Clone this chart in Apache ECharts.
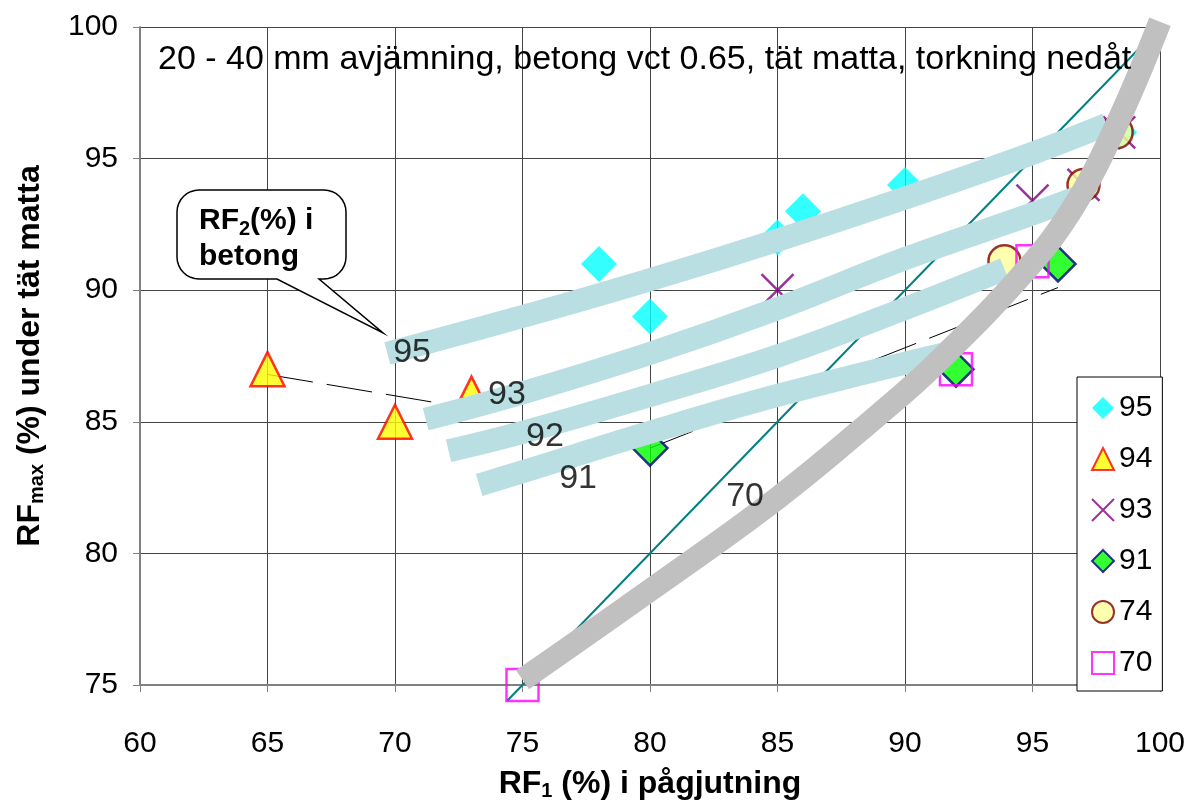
<!DOCTYPE html>
<html><head><meta charset="utf-8">
<script src="https://cdn.jsdelivr.net/npm/echarts@6/dist/echarts.min.js"></script>
<style>html,body{margin:0;padding:0;background:#fff}#c{width:1190px;height:806px}</style>
</head><body><div id="c"></div>
<script>
// ---------- data ----------
const legendNames = ['95','94','93','91','74','70'];
const s95 = [[78,91],[80,89],[85,92],[86,93],[90,94],[98.4,96]];
const s94 = [[65,87],[70,85],[73,86.3]];
const s93 = [[85,90],[95,93.4],[97,94],[98.4,96]];
const s91 = [[80,84],[92,87],[96,91]];
const s74 = [[93.9,91.1],[97,94],[98.3,96]];
const s70 = [[75,75],[92,87],[95,91.1]];
const band95 = [[69.7,87.6],[75,89.0],[80,90.4],[85,91.9],[90,93.5],[95,95.2],[97.9,96.3]];
const band93 = [[71.2,85.1],[75,86.1],[80,87.6],[85,89.3],[90,91.2],[95,92.9],[96.7,93.5]];
const band92 = [[72.1,83.9],[75,84.6],[80,86.0],[85,87.5],[90,89.3],[93.9,90.8]];
const band91 = [[73.3,82.6],[75,83.1],[80,84.6],[85,86.0],[91.6,87.6]];
const band70 = [[75,75.2],[80,78.6],[85,82.1],[89,85.3],[91.2,87.2],[94.5,90.5],[96.5,93.0],[98.3,96.3],[100,100.2]];
const diagonal = [[74.4,74.4],[100,100]];
const trend94 = [[65,86.8],[73,85.5]];
const trend91 = [[80,84],[96,90.1]];
const bandLabels = [[70.67,87.63,'95'],[74.39,86.05,'93'],[75.88,84.43,'92'],[77.18,82.84,'91'],[83.73,82.16,'70']];
const subtitle = '20 - 40 mm avjämning, betong vct 0.65, tät matta, torkning nedåt';

// ---------- chart ----------
const FONT = '"Liberation Sans", Arial, sans-serif';
const s94Sizes = [34,34,22];

// callout outline (rounded box with pointer) in pixels
function calloutPoints(x0, y0, x1, y1, r, tailA, tailB, tip){
  const pts = [];
  const arc = (cx, cy, a0, a1) => { for (let k = 0; k <= 8; k++){ const a = a0 + (a1 - a0) * k / 8; pts.push([cx + r*Math.cos(a), cy + r*Math.sin(a)]); } };
  arc(x0 + r, y0 + r, Math.PI, 1.5*Math.PI);
  arc(x1 - r, y0 + r, 1.5*Math.PI, 2*Math.PI);
  arc(x1 - r, y1 - r, 0, 0.5*Math.PI);
  pts.push([tailB, y1]); pts.push(tip); pts.push([tailA, y1]);
  arc(x0 + r, y1 - r, 0.5*Math.PI, Math.PI);
  return pts;
}

const chart = echarts.init(document.getElementById('c'), null, {renderer:'canvas'});
function band(data, color, z){
  return {type:'line', data, showSymbol:false, symbol:'none', smooth:0.4, silent:true, z,
    lineStyle:{width:23, color, cap:'butt'}};
}
function thinLine(data, style, clip){
  return {type:'line', data, showSymbol:false, symbol:'none', silent:true, z:1, clip,
    lineStyle:style};
}
const option = {
  animation:false,
  backgroundColor:'#fff',
  title:{text:subtitle, left:158, top:43, padding:0,
    textStyle:{fontSize:34, fontWeight:'normal', color:'#000', fontFamily:FONT}},
  grid:{left:140, right:30, top:27, bottom:116, containLabel:false},
  legend:{data:legendNames, orient:'vertical', left:1077, top:377,
    backgroundColor:'#fff', borderColor:'#000', borderWidth:1, borderRadius:0,
    padding:[16,10,13,14], itemWidth:22, itemHeight:22, itemGap:21,
    textStyle:{fontSize:30, color:'#000', fontFamily:FONT}},
  xAxis:{type:'value', min:60, max:100, interval:5,
    axisLine:{show:true, onZero:false, lineStyle:{color:'#808080', width:2}},
    axisTick:{show:true, length:7, lineStyle:{color:'#808080'}},
    axisLabel:{fontSize:30, color:'#000', margin:44, fontFamily:FONT},
    splitLine:{show:true, lineStyle:{color:'#444', width:1}},
    name:'{a|RF}{s|1}{a| (%) i pågjutning}', nameLocation:'middle', nameGap:82,
    nameTextStyle:{rich:{
      a:{fontSize:32, fontWeight:'bold', color:'#000', fontFamily:FONT, lineHeight:34},
      s:{fontSize:20, fontWeight:'bold', color:'#000', fontFamily:FONT, lineHeight:20, verticalAlign:'bottom'}}}},
  yAxis:{type:'value', min:75, max:100, interval:5,
    axisLine:{show:true, onZero:false, lineStyle:{color:'#808080', width:2}},
    axisTick:{show:true, length:7, lineStyle:{color:'#808080'}},
    axisLabel:{fontSize:30, color:'#000', margin:22, fontFamily:FONT},
    splitLine:{show:true, lineStyle:{color:'#444', width:1}},
    name:'{a|RF}{s|max}{a| (%) under tät matta}', nameLocation:'middle', nameGap:93,
    nameTextStyle:{rich:{
      a:{fontSize:32, fontWeight:'bold', color:'#000', fontFamily:FONT, lineHeight:34},
      s:{fontSize:20, fontWeight:'bold', color:'#000', fontFamily:FONT, lineHeight:20, verticalAlign:'bottom'}}}},
  series:[
    thinLine(diagonal, {color:'#008080', width:2}, false),
    thinLine(trend94, {color:'#000', width:1, type:[46,14]}, true),
    thinLine(trend91, {color:'#000', width:1, type:[46,14]}, true),
    {name:'95', type:'scatter', data:s95, symbol:'diamond', symbolSize:36, z:2,
      itemStyle:{color:'#00FFFF'}},
    {name:'94', type:'scatter', data:s94.map((p,i)=>({value:p, symbolSize:s94Sizes[i]})),
      symbol:'triangle', symbolSize:34, z:2,
      itemStyle:{color:'#FFFF00', borderColor:'#FF0000', borderWidth:2.5}},
    {name:'93', type:'scatter', data:s93, symbol:'path://M0,0L10,10M10,0L0,10', symbolSize:32, z:2,
      itemStyle:{color:'rgba(0,0,0,0)', borderColor:'#800080', borderWidth:2.5}},
    {name:'91', type:'scatter', data:s91, symbol:'diamond', symbolSize:35, z:2,
      itemStyle:{color:'#00FF00', borderColor:'#000080', borderWidth:2.5}},
    {name:'74', type:'scatter', data:s74, symbol:'circle', symbolSize:32, z:2,
      itemStyle:{color:'#FFFF99', borderColor:'#800000', borderWidth:2.5}},
    {name:'70', type:'scatter', data:s70, symbol:'rect', symbolSize:32, z:2,
      itemStyle:{color:'rgba(0,0,0,0)', borderColor:'#FF00FF', borderWidth:2.5}},
    band(band95, '#B9DFE3', 3),
    band(band93, '#B9DFE3', 3),
    band(band92, '#B9DFE3', 3),
    band(band91, '#B9DFE3', 3),
    band(band70, '#C0C0C0', 4),
    {type:'scatter', data:bandLabels, symbolSize:1, silent:true, z:5,
      itemStyle:{color:'rgba(0,0,0,0)'},
      label:{show:true, position:'inside', formatter:p=>p.value[2], fontSize:34, color:'#000', fontFamily:FONT}}
  ],
  graphic:[
    {type:'polygon', z:10, shape:{points:calloutPoints(177,190,346,279,22,277,319,[383,333])},
      style:{fill:'#fff', stroke:'#000', lineWidth:1.5}},
    {type:'text', z:11, left:199, top:206,
      style:{text:'{a|RF}{s|2}{a|(%) i}\n{a|betong}', fill:'#000',
        rich:{a:{fontSize:30, fontWeight:'bold', fontFamily:FONT, lineHeight:36, fill:'#000'},
              s:{fontSize:20, fontWeight:'bold', fontFamily:FONT, lineHeight:20, verticalAlign:'bottom', fill:'#000'}}}}
  ]
};
chart.setOption(option);
</script>
</body></html>
